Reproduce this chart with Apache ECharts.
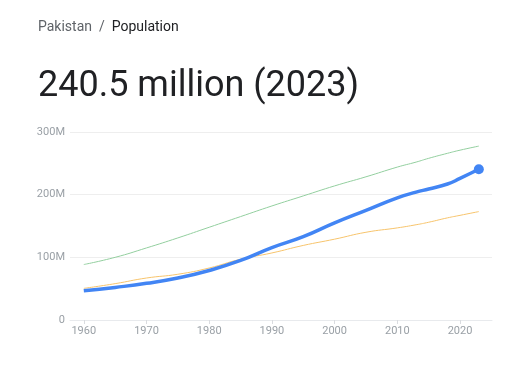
<!DOCTYPE html>
<html><head><meta charset="utf-8">
<script src="https://cdn.jsdelivr.net/npm/echarts@6/dist/echarts.min.js"></script>
<style>html,body{margin:0;padding:0;background:#fff}#c{width:528px;height:387px}</style>
</head><body><div id="c"></div>
<script>
const years = [1960,1965,1970,1975,1980,1985,1990,1995,2000,2005,2010,2013,2015,2018,2020,2023];
const pakistan = [46.5,52,58.5,67,79,95,115.5,133,155,175,195,204,209,217,226,240.5];
const indonesia = [88.5,100,115,131,148,165,182,198,214,228.5,244,252,258,266,271,277.5];
const bangladesh = [50.5,58,67,73,83,97,107,119,129,140,147,152,156,163,167,173];
const xTicks = [1960,1970,1980,1990,2000,2010,2020];

const pair = (ys, vs) => ys.map((y,i)=>[y, vs[i]]);
const chart = echarts.init(document.getElementById('c'));
const font = 'Roboto, Arial, sans-serif';
chart.setOption({
  animation: false,
  title: [
    {left: 33, top: 15, text: '{a|Pakistan}{s|  /  }{b|Population}',
     textStyle: {fontWeight: 'normal', rich: {
       a: {fontFamily: font, fontSize: 14, fontWeight: 'normal', color: '#5f6368'},
       s: {fontFamily: font, fontSize: 14, fontWeight: 'normal', color: '#5f6368'},
       b: {fontFamily: font, fontSize: 14, fontWeight: 'normal', color: '#202124'}}}},
    {left: 33, top: 64, text: '240.5 million (2023)',
     textStyle: {fontFamily: font, fontSize: 36, fontWeight: 'normal', color: '#202124'}}
  ],
  grid: {left: 70, right: 36, top: 132, bottom: 67},
  xAxis: {
    type: 'value', min: 1957.8, max: 2025.1,
    axisLine: {show: true, lineStyle: {color: '#e8eaed'}},
    axisTick: {show: true, length: 4, customValues: xTicks, lineStyle: {color: '#dadce0'}},
    axisLabel: {customValues: xTicks, color: '#9aa0a6', fontFamily: font, fontSize: 11, margin: 6,
      formatter: v => String(v)},
    splitLine: {show: false}
  },
  yAxis: {
    type: 'value', min: 0, max: 300, interval: 100,
    axisLine: {show: false}, axisTick: {show: false},
    axisLabel: {color: '#9aa0a6', fontFamily: font, fontSize: 11, margin: 5,
      formatter: v => v === 0 ? '0' : v + 'M'},
    splitLine: {lineStyle: {color: '#eeeeee'}}
  },
  series: [
    {type: 'line', data: pair(years, indonesia), smooth: true, showSymbol: false,
     lineStyle: {color: '#93cf9f', width: 1}},
    {type: 'line', data: pair(years, bangladesh), smooth: true, showSymbol: false,
     lineStyle: {color: '#f7c46c', width: 1}},
    {type: 'line', data: pair(years, pakistan), smooth: true, showSymbol: false,
     lineStyle: {color: '#4285f4', width: 3.5},
     markPoint: {symbol: 'circle', symbolSize: 10, itemStyle: {color: '#4285f4'}, label: {show: false},
       data: [{coord: [years[years.length-1], pakistan[pakistan.length-1]]}]}}
  ]
});
</script></body></html>
